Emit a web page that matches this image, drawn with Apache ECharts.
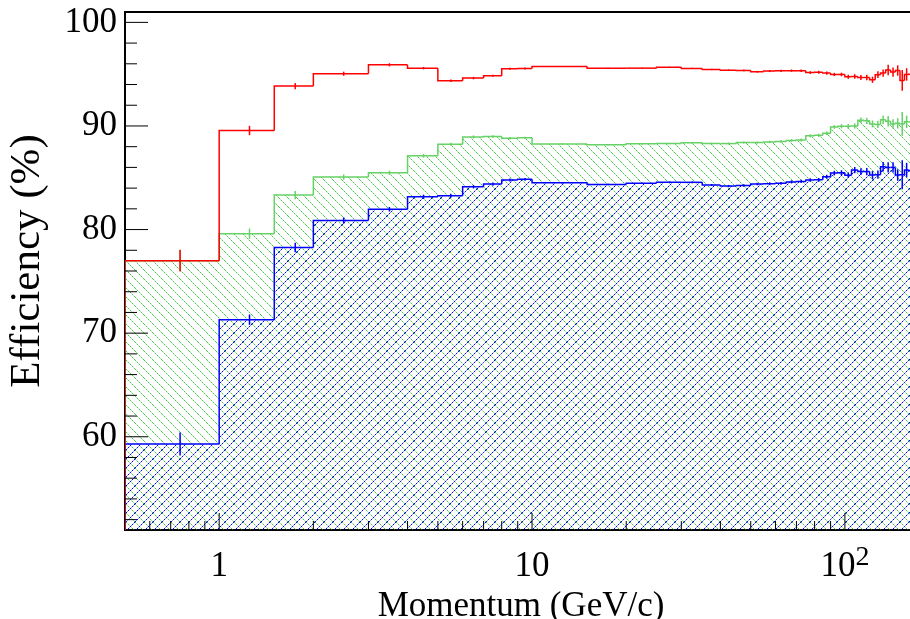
<!DOCTYPE html>
<html>
<head>
<meta charset="utf-8">
<script src="https://cdn.jsdelivr.net/npm/echarts@6/dist/echarts.min.js"></script>
<style>
html,body{margin:0;padding:0;background:#fff;}
#chart{width:910px;height:619px;}
</style>
</head>
<body>
<div id="chart"></div>
<script>
// ---- data ----
const binEdges = [0.5, 1, 1.5, 2, 3, 4, 5, 6, 7, 8, 9, 10,
  15, 20, 25, 30, 35, 40, 45, 50, 55, 60, 65, 70, 75, 80, 85, 90, 95, 100,
  105, 110, 115, 120, 125, 130, 135, 140, 145, 150, 155, 160, 165, 170];

const redEff = [77.0, 89.56, 93.85, 95.04, 95.9, 95.58, 94.37, 94.62, 94.85, 95.52, 95.55,
  95.74, 95.58, 95.58, 95.67, 95.55, 95.45, 95.38, 95.36, 95.23, 95.3,
  95.32, 95.34, 95.33, 95.15, 95.18, 95.1, 94.97, 94.97, 94.75, 94.78,
  94.68, 94.68, 94.46, 94.95, 95.1, 95.4, 95.2, 95.35, 94.39, 94.97,
  95.0, 95.0];
const redErr = [1.05, 0.45, 0.3, 0.2, 0.15, 0.12, 0.12, 0.12, 0.1, 0.1, 0.1,
  0.05, 0.05, 0.05, 0.05, 0.06, 0.07, 0.08, 0.08, 0.09, 0.1,
  0.1, 0.11, 0.12, 0.13, 0.14, 0.15, 0.16, 0.17, 0.2, 0.22,
  0.25, 0.27, 0.3, 0.33, 0.35, 0.5, 0.45, 0.5, 1.0, 0.6,
  0.6, 0.6];

const greenEff = [77.0, 79.6, 83.33, 85.07, 85.48, 87.12, 88.24, 88.94, 88.98, 88.82, 88.85,
  88.27, 88.18, 88.28, 88.3, 88.38, 88.3, 88.3, 88.4, 88.4, 88.46,
  88.5, 88.6, 88.65, 89.05, 89.1, 89.3, 89.9, 89.97, 89.97, 90.0,
  90.55, 90.5, 90.2, 90.15, 90.6, 90.45, 90.2, 90.25, 90.2, 90.4,
  90.4, 90.4];
const greenErr = [1.0, 0.5, 0.4, 0.25, 0.2, 0.18, 0.15, 0.15, 0.13, 0.12, 0.12,
  0.06, 0.06, 0.06, 0.07, 0.08, 0.09, 0.1, 0.1, 0.1, 0.11,
  0.12, 0.13, 0.14, 0.15, 0.16, 0.17, 0.18, 0.2, 0.22, 0.25,
  0.27, 0.3, 0.33, 0.35, 0.4, 0.5, 0.45, 0.5, 1.15, 0.6,
  0.6, 0.6];

const blueEff = [59.3, 71.3, 78.27, 80.87, 81.96, 83.17, 83.27, 84.13, 84.39, 84.78, 84.85,
  84.52, 84.36, 84.46, 84.56, 84.56, 84.3, 84.2, 84.25, 84.39, 84.43,
  84.46, 84.6, 84.65, 84.78, 84.8, 85.1, 85.45, 85.48, 85.25, 85.74,
  85.6, 85.6, 85.26, 85.3, 86.06, 86.0, 86.0, 85.26, 85.3, 85.74,
  85.7, 85.7];
const blueErr = [1.1, 0.5, 0.45, 0.3, 0.22, 0.2, 0.18, 0.16, 0.15, 0.14, 0.13,
  0.07, 0.07, 0.07, 0.08, 0.09, 0.1, 0.11, 0.12, 0.12, 0.13,
  0.14, 0.15, 0.16, 0.17, 0.18, 0.2, 0.22, 0.25, 0.27, 0.3,
  0.33, 0.35, 0.38, 0.4, 0.45, 0.5, 0.5, 0.55, 1.4, 0.7,
  0.7, 0.7];

const xMajorTicks = [1, 10, 100];
const xMinorTicks = [0.6, 0.7, 0.8, 0.9, 2, 3, 4, 5, 6, 7, 8, 9, 20, 30, 40, 50, 60, 70, 80, 90];
const yMajorTicks = [60, 70, 80, 90, 100];
const yMinorTicks = [52, 54, 56, 58, 62, 64, 66, 68, 72, 74, 76, 78, 82, 84, 86, 88, 92, 94, 96, 98];

const X_MIN = 0.5, X_MAX = 170, Y_MIN = 51, Y_MAX = 101;

// ---- helpers ----
// crisp dotted 1-px diagonal hatch tile (ROOT-like fill style)
function hatch(rgb, dir, s) {
  const c = document.createElement('canvas');
  c.width = s; c.height = s;
  const g = c.getContext('2d');
  const img = g.createImageData(s, s);
  for (let i = 0; i < s; i++) {
    const x = i, y = dir === 'down' ? i : s - 1 - i;
    const k = (y * s + x) * 4;
    img.data[k] = rgb[0]; img.data[k + 1] = rgb[1]; img.data[k + 2] = rgb[2];
    img.data[k + 3] = (i % 2 === 0) ? 255 : 110;
  }
  g.putImageData(img, 0, 0);
  return c;
}

function histData(eff, err) {
  const out = [];
  for (let i = 0; i < eff.length; i++) {
    out.push([binEdges[i], binEdges[i + 1], eff[i], err[i], i === 0 ? Y_MIN : eff[i - 1]]);
  }
  return out;
}

function histSeries(name, eff, err, color, pattern, z) {
  return {
    type: 'custom', name: name, z: z,
    coordinateSystem: 'cartesian2d',
    clip: true,
    data: histData(eff, err),
    renderItem: function (params, api) {
      const lo = api.value(0), hi = api.value(1), v = api.value(2), e = api.value(3), pv = api.value(4);
      const p0 = api.coord([lo, v]);
      const p1 = api.coord([hi, v]);
      const pb = api.coord([lo, Y_MIN]);
      const pp = api.coord([lo, pv]);
      const xc = api.coord([(lo + hi) / 2, v])[0];
      const eTop = api.coord([lo, v + e])[1];
      const eBot = api.coord([lo, v - e])[1];
      const children = [];
      if (pattern) {
        children.push({
          type: 'rect', silent: true,
          shape: { x: p0[0], y: p0[1], width: p1[0] - p0[0], height: pb[1] - p0[1] },
          style: { fill: { image: pattern, repeat: 'repeat' }, stroke: null }
        });
      }
      children.push({
        type: 'polyline', silent: true,
        shape: { points: [pp, p0, p1] },
        style: { stroke: color, lineWidth: 1.5, fill: null }
      });
      children.push({
        type: 'line', silent: true,
        shape: { x1: xc, y1: eTop, x2: xc, y2: eBot },
        style: { stroke: color, lineWidth: 1.5 }
      });
      return { type: 'group', children: children };
    }
  };
}

// tick data: [x, y, kind] kind 0 x-major, 1 x-minor, 2 y-major, 3 y-minor
const tickData = [];
xMajorTicks.forEach(v => tickData.push([v, Y_MIN, 0]));
xMinorTicks.forEach(v => tickData.push([v, Y_MIN, 1]));
yMajorTicks.forEach(v => tickData.push([X_MIN, v, 2]));
yMinorTicks.forEach(v => tickData.push([X_MIN, v, 3]));

const chart = echarts.init(document.getElementById('chart'), null, { renderer: 'canvas' });

const greenPat = hatch([70, 205, 70], 'down', 9);
const bluePat = hatch([0, 0, 255], 'up', 9);

chart.setOption({
  animation: false,
  backgroundColor: '#fff',
  grid: {
    left: 125, top: 12, width: 792, height: 518,
    outerBoundsMode: 'none', containLabel: false,
    show: true, borderColor: '#000', borderWidth: 2, backgroundColor: 'transparent'
  },
  xAxis: {
    type: 'log', logBase: 10, min: X_MIN, max: X_MAX,
    name: 'Momentum (GeV/c)', nameLocation: 'middle', nameGap: 47,
    nameTextStyle: { fontFamily: 'Liberation Serif', fontSize: 35, color: '#000' },
    axisLine: { show: true, lineStyle: { color: '#000', width: 2 } },
    axisTick: { show: false },
    splitLine: { show: false },
    minorTick: { show: false },
    axisLabel: {
      margin: 14,
      showMinLabel: true, showMaxLabel: true,
      formatter: function (v) {
        const l = Math.log10(v);
        if (Math.abs(l - Math.round(l)) > 1e-6) return '';
        const n = Math.round(l);
        if (n === 0) return '{b|1}';
        if (n === 1) return '{b|10}';
        return '{b|10}{s|' + n + '}';
      },
      rich: {
        b: { fontFamily: 'Liberation Serif', fontSize: 35, color: '#000', lineHeight: 45 },
        s: { fontFamily: 'Liberation Serif', fontSize: 28, color: '#000', lineHeight: 28, verticalAlign: 'top' }
      }
    }
  },
  yAxis: {
    type: 'value', min: Y_MIN, max: Y_MAX,
    name: 'Efficiency (%)', nameLocation: 'middle', nameGap: 76,
    nameTextStyle: { fontFamily: 'Liberation Serif', fontSize: 43, color: '#000', padding: [0, 0, 0, 20] },
    axisLine: { show: true, lineStyle: { color: '#000', width: 2 } },
    axisTick: { show: false },
    splitLine: { show: false },
    axisLabel: {
      margin: 8, fontFamily: 'Liberation Serif', fontSize: 35, color: '#000',
      formatter: function (v) { return (Math.abs(v % 10) < 1e-9) ? String(v) : ''; }
    }
  },
  series: [
    histSeries('green', greenEff, greenErr, '#66d166', greenPat, 2),
    histSeries('blue', blueEff, blueErr, '#0000ff', bluePat, 3),
    histSeries('red', redEff, redErr, '#ff0000', null, 4),
    {
      type: 'custom', name: 'ticks', z: 5,
      coordinateSystem: 'cartesian2d',
      data: tickData,
      renderItem: function (params, api) {
        const p = api.coord([api.value(0), api.value(1)]);
        const kind = api.value(2);
        let shape;
        if (kind === 0) shape = { x1: p[0], y1: p[1], x2: p[0], y2: p[1] - 17 };
        else if (kind === 1) shape = { x1: p[0], y1: p[1], x2: p[0], y2: p[1] - 9 };
        else if (kind === 2) shape = { x1: p[0], y1: p[1], x2: p[0] + 23, y2: p[1] };
        else shape = { x1: p[0], y1: p[1], x2: p[0] + 12, y2: p[1] };
        return { type: 'line', silent: true, shape: shape, style: { stroke: '#000', lineWidth: 1 } };
      }
    }
  ]
});
</script>
</body>
</html>
